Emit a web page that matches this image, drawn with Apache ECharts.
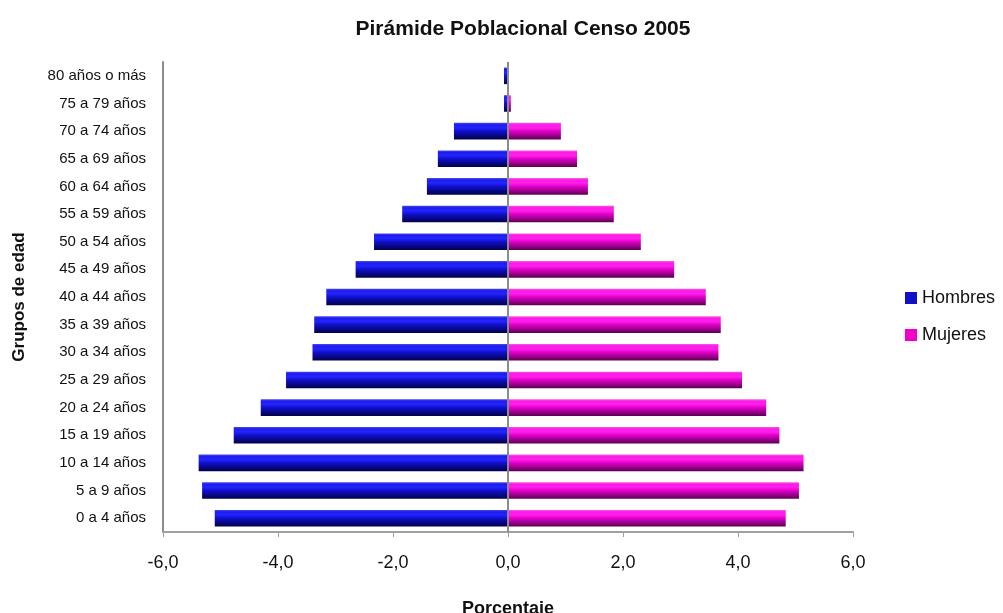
<!DOCTYPE html>
<html>
<head>
<meta charset="utf-8">
<script src="https://cdn.jsdelivr.net/npm/echarts@6/dist/echarts.min.js"></script>
<style>
html,body{margin:0;padding:0;background:#fff;}
#chart{width:1003px;height:613px;}
</style>
</head>
<body>
<div id="chart"></div>
<script>
// Categories (bottom to top)
var categories = ["0 a 4 años","5 a 9 años","10 a 14 años","15 a 19 años","20 a 24 años","25 a 29 años","30 a 34 años","35 a 39 años","40 a 44 años","45 a 49 años","50 a 54 años","55 a 59 años","60 a 64 años","65 a 69 años","70 a 74 años","75 a 79 años","80 años o más"];
var hombres = [-5.10,-5.32,-5.38,-4.77,-4.30,-3.86,-3.40,-3.37,-3.16,-2.65,-2.33,-1.84,-1.41,-1.22,-0.94,-0.07,-0.07];
var mujeres = [4.83,5.06,5.14,4.72,4.49,4.07,3.66,3.70,3.44,2.89,2.31,1.84,1.39,1.20,0.92,0.05,0.00];
var xTicks = [-6,-4,-2,0,2,4,6];

var FONT = '"Liberation Sans", Arial, sans-serif';
var chart = echarts.init(document.getElementById('chart'), null, {renderer:'canvas'});

var blueGrad = new echarts.graphic.LinearGradient(0,0,0,1,[
  {offset:0,color:'#4a4ae6'},{offset:0.12,color:'#1c1cf0'},{offset:0.3,color:'#2424ff'},
  {offset:0.5,color:'#1010cc'},{offset:0.75,color:'#08088a'},{offset:1,color:'#02024a'}]);
var pinkGrad = new echarts.graphic.LinearGradient(0,0,0,1,[
  {offset:0,color:'#f060e0'},{offset:0.12,color:'#ff18e8'},{offset:0.3,color:'#ff20ee'},
  {offset:0.5,color:'#e000c8'},{offset:0.75,color:'#a00090'},{offset:1,color:'#5a0050'}]);

chart.setOption({
  animation:false,
  backgroundColor:'#ffffff',
  title:{
    text:'Pirámide Poblacional Censo 2005',
    left:518, top:14, textAlign:'center',
    textStyle:{fontFamily:FONT,fontSize:21,fontWeight:'bold',color:'#111'}
  },
  legend:{
    orient:'vertical', left:900, top:283,
    itemWidth:12, itemHeight:12, itemGap:17,
    textStyle:{fontFamily:FONT,fontSize:18,color:'#111',lineHeight:20},
    data:[
      {name:'Hombres',icon:'rect',itemStyle:{color:'#1010c8'}},
      {name:'Mujeres',icon:'rect',itemStyle:{color:'#f000c8'}}
    ]
  },
  grid:{left:163,right:150,top:62,bottom:81,containLabel:false,outerBoundsMode:'none'},
  xAxis:{
    type:'value', min:-6, max:6, interval:2,
    name:'Porcentaje', nameLocation:'middle', nameGap:68,
    nameTextStyle:{fontFamily:FONT,fontSize:18,fontWeight:'bold',color:'#111'},
    axisLine:{show:true,onZero:false,lineStyle:{color:'#a0a0a0',width:2}},
    axisTick:{show:true,length:5,lineStyle:{color:'#a0a0a0',width:1}},
    splitLine:{show:false},
    axisLabel:{fontFamily:FONT,fontSize:18,color:'#111',margin:22,
      formatter:function(v){return v.toFixed(1).replace('.',',');}}
  },
  yAxis:{
    type:'category', data:categories,
    name:'Grupos de edad', nameLocation:'middle', nameGap:135, nameRotate:90,
    nameTextStyle:{fontFamily:FONT,fontSize:17,fontWeight:'bold',color:'#111'},
    axisLine:{show:true,onZero:false,lineStyle:{color:'#8c8c8c',width:2}},
    axisTick:{show:false},
    axisLabel:{fontFamily:FONT,fontSize:15,color:'#111',margin:17}
  },
  series:[
    {name:'Hombres',type:'bar',data:hombres,barWidth:'60%',barGap:'-100%',
     itemStyle:{color:blueGrad},
     markLine:{silent:true,symbol:'none',label:{show:false},
       lineStyle:{color:'#8c8c8c',width:2,type:'solid'},data:[{xAxis:0}]},
     z:2},
    {name:'Mujeres',type:'bar',data:mujeres,barWidth:'60%',barGap:'-100%',
     itemStyle:{color:pinkGrad},z:2}
  ]
});
</script>
</body>
</html>
